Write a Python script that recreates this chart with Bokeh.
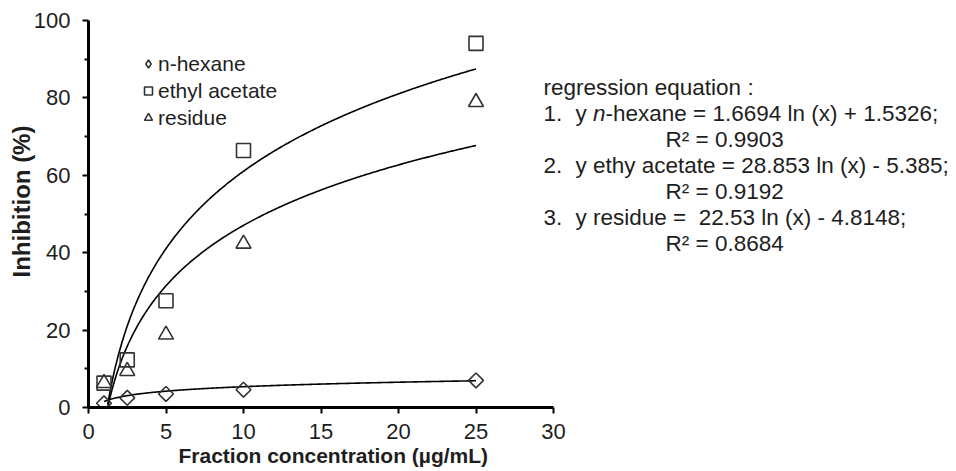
import numpy as np
from bokeh.plotting import figure
from bokeh.models import Label, Legend, LegendItem, Range1d, FixedTicker, Title
from bokeh.embed import file_html
from bokeh.resources import INLINE

# ---- data ----
conc = [1, 2.5, 5, 10, 25]
hexane = [1.1, 2.5, 3.5, 4.6, 7.0]
ethyl = [6.3, 12.3, 27.6, 66.4, 94.1]
residue = [6.3, 9.4, 18.8, 42.3, 78.9]
# regression coefficients shown on the chart: y = a ln(x) + b
fit_hexane = [1.6694, 1.5326]
fit_ethyl = [28.853, -5.385]
fit_residue = [22.53, -4.8148]
x_ticks = [0, 5, 10, 15, 20, 25, 30]
y_ticks = [0, 20, 40, 60, 80, 100]
series_names = ["n-hexane", "ethyl acetate", "residue"]

FONT = "Liberation Sans"
TXT = "#1e1e1e"

W, H = 956, 471
FL, FT, FB = 88, 20, 407      # frame edges in canvas px
AXIS_R = 553                  # canvas px where x = 30 sits
X_MAX = 30.0
x_end = X_MAX * (W - FL) / (AXIS_R - FL)

p = figure(width=W, height=H, x_range=Range1d(0, x_end), y_range=Range1d(0, 100),
           output_backend="svg", toolbar_location=None,
           min_border_left=FL, min_border_right=0,
           min_border_top=FT, min_border_bottom=H - FB)
p.xgrid.visible = False
p.ygrid.visible = False
p.outline_line_color = None
p.background_fill_color = "white"
p.border_fill_color = "white"

for ax in (p.xaxis[0], p.yaxis[0]):
    ax.axis_line_color = "black"
    ax.axis_line_width = 3
    ax.major_tick_line_color = "black"
    ax.major_tick_line_width = 2
    ax.major_tick_in = 0
    ax.major_tick_out = 6
    ax.major_label_text_font = FONT
    ax.major_label_text_font_size = "22px"
    ax.major_label_text_color = TXT

p.xaxis.ticker = FixedTicker(ticks=x_ticks)
p.xaxis.bounds = (0, X_MAX)
p.xaxis.minor_tick_line_color = None
p.xaxis.major_label_standoff = 10

p.yaxis.ticker = FixedTicker(ticks=y_ticks, minor_ticks=[10, 30, 50, 70, 90])
p.yaxis.minor_tick_line_color = "black"
p.yaxis.minor_tick_line_width = 2
p.yaxis.minor_tick_in = 0
p.yaxis.minor_tick_out = 4
p.yaxis.major_label_standoff = 12

# axis titles (as panel titles so they can be offset like the reference)
p.add_layout(Title(text="Fraction concentration (µg/mL)", align="left", offset=90,
                   standoff=0, text_font=FONT, text_font_size="21px",
                   text_font_style="bold", text_color=TXT), "below")
p.add_layout(Title(text="Inhibition (%)", align="left", offset=130,
                   standoff=-8, text_font=FONT, text_font_size="24px",
                   text_font_style="bold", text_color=TXT), "left")

# ---- regression curves ----
xs = np.linspace(1, 25, 400)
for a, b in (fit_hexane, fit_ethyl, fit_residue):
    ys = a * np.log(xs) + b
    m = ys >= 0
    p.line(xs[m], ys[m], line_color="black", line_width=1.6)

# ---- markers ----
mk = dict(fill_color="white", fill_alpha=0.0, line_color="#333333", line_width=1.6)
p.scatter(conc, hexane, marker="square", size=10.5, angle=np.pi / 4, **mk)
r_eth = p.scatter(conc, ethyl, marker="square", size=14, **mk)
r_res = p.scatter(conc, residue, marker="triangle", size=15, **mk)
# legend-only proxy for the diamond symbol (not drawn: NaN position)
r_hex_leg = p.scatter(x=[float("nan")], y=[float("nan")], marker="diamond", size=10, **mk)

legend = Legend(items=[LegendItem(label=series_names[0], renderers=[r_hex_leg]),
                       LegendItem(label=series_names[1], renderers=[r_eth]),
                       LegendItem(label=series_names[2], renderers=[r_res])],
                location=(50, 276), orientation="vertical",
                glyph_width=20, glyph_height=27, label_height=27,
                label_standoff=0, spacing=0, padding=0, margin=0,
                label_text_font=FONT, label_text_font_size="21px",
                label_text_color=TXT, border_line_color=None,
                background_fill_alpha=0.0)
p.add_layout(legend)

# ---- equation texts placed by canvas position ----
sx = X_MAX / (AXIS_R - FL)
sy = 100.0 / (FB - FT)


def dx(cx):
    return (cx - FL) * sx


def dy(cy):
    return (FB - cy) * sy


def lab(x, y, t, style="normal"):
    p.add_layout(Label(x=dx(x), y=dy(y), text=t, text_font=FONT,
                       text_font_size="22.5px", text_font_style=style,
                       text_color=TXT, text_baseline="middle", text_align="left"))


rows = [87, 113, 139, 165, 191, 217, 243]
lab(543, rows[0], "regression equation :")
lab(543, rows[1], "1.")
lab(575, rows[1], "y ")
lab(592.5, rows[1], "n", "italic")
lab(605, rows[1], "-hexane = 1.6694 ln (x) + 1.5326;")
lab(665, rows[2], "R² = 0.9903")
lab(543, rows[3], "2.")
lab(575, rows[3], "y ethy acetate = 28.853 ln (x) - 5.385;")
lab(665, rows[4], "R² = 0.9192")
lab(543, rows[5], "3.")
lab(575, rows[5], "y residue =\u00a0 22.53 ln (x) - 4.8148;")
lab(665, rows[6], "R² = 0.8684")

open("out.html", "w").write(file_html(p, INLINE))
